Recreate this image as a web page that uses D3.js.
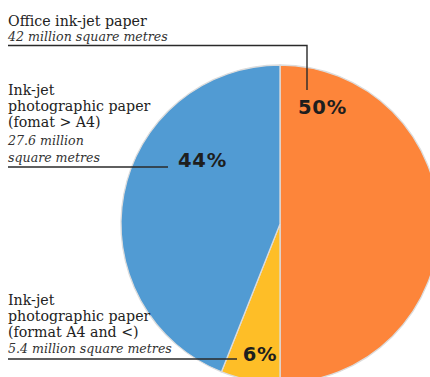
<!DOCTYPE html>
<html>
<head>
<meta charset="utf-8">
<script src="https://cdn.jsdelivr.net/npm/d3@7"></script>
<style>
  body { margin: 0; background: #fff; }
  svg { display: block; }
</style>
</head>
<body>
<svg id="pie" width="430" height="377"></svg>
<script>
(() => {

    // chart data
    const categories = ['Office ink-jet paper', 'Ink-jet photographic paper (format A4 and <)', 'Ink-jet photographic paper (fomat > A4)'];
    const shares = [50, 6, 44];
    const areas = ['42 million square metres', '5.4 million square metres', '27.6 million square metres'];
    const pct_labels = ['50%', '6%', '44%'];

    // text blocks for the annotations (title lines, italic lines)
    const title_lines = [
        ['Office ink-jet paper'],
        ['Ink-jet', 'photographic paper', '(format A4 and <)'],
        ['Ink-jet', 'photographic paper', '(fomat > A4)']
    ];
    const italic_lines = [
        ['42 million square metres'],
        ['5.4 million square metres'],
        ['27.6 million', 'square metres']
    ];

    const hex_codes = ['#fd853a', '#febe27', '#519bd3'];
    const serif_font = 'DejaVu Serif';

    // layout
    const cx = 280, cy = 224, radius = 159;
    const text_x = 8;

    // annotation layout: first baseline, line spacing, underline y, percent label pos, elbow
    const notes = [
        { y0: 26, title_step: 16, italic_y: [41], line_y: 45.5, line_x2: 307, drop_y: 90, px: 322.5, py: 114 },
        { y0: 305, title_step: 16, italic_y: [353], line_y: 359, line_x2: 237, drop_y: null, px: 260, py: 361 },
        { y0: 95, title_step: 16, italic_y: [145, 162], line_y: 167, line_x2: 168, drop_y: null, px: 202.5, py: 167 }
    ];

    let svg = d3.select('#pie');

    let colors = d3.scaleOrdinal()
        .domain(categories)
        .range(hex_codes);

    let pie = d3.pie()
        .sort(null)
        .value((d) => d.share);

    let arc = d3.arc()
        .innerRadius(0)
        .outerRadius(radius);

    let data = categories.map((c, i) => ({ category: c, share: shares[i], area: areas[i] }));

    // slices
    svg.append('g')
        .attr('transform', `translate(${cx}, ${cy})`)
        .selectAll('path')
        .data(pie(data))
        .enter()
        .append('path')
        .attr('d', arc)
        .attr('fill', (d) => colors(d.data.category))
        .attr('stroke', '#dcdcdc')
        .attr('stroke-width', 1.3);

    // annotations
    let notes_g = svg.append('g');

    notes.forEach((n, i) => {
        let g = notes_g.append('g');

        title_lines[i].forEach((t, j) => {
            g.append('text')
                .attr('x', text_x)
                .attr('y', n.y0 + j * n.title_step)
                .attr('font-family', serif_font)
                .attr('font-size', 14.2)
                .attr('fill', '#222')
                .text(t);
        });

        italic_lines[i].forEach((t, j) => {
            g.append('text')
                .attr('x', text_x)
                .attr('y', n.italic_y[j])
                .attr('font-family', serif_font)
                .attr('font-style', 'italic')
                .attr('font-size', 12.6)
                .attr('fill', '#333')
                .text(t);
        });

        let pts = [[text_x, n.line_y], [n.line_x2, n.line_y]];
        if (n.drop_y != null) pts.push([n.line_x2, n.drop_y]);

        g.append('path')
            .attr('d', d3.line()(pts))
            .attr('fill', 'none')
            .attr('stroke', '#2a2a2a')
            .attr('stroke-width', 1.4);

        g.append('text')
            .attr('x', n.px)
            .attr('y', n.py)
            .attr('font-family', 'DejaVu Sans')
            .attr('font-weight', 'bold')
            .attr('font-size', 19.5)
            .attr('letter-spacing', 0.8)
            .attr('text-anchor', 'middle')
            .attr('fill', '#1e1e1e')
            .text(pct_labels[i]);
    });

})();
</script>
</body>
</html>
